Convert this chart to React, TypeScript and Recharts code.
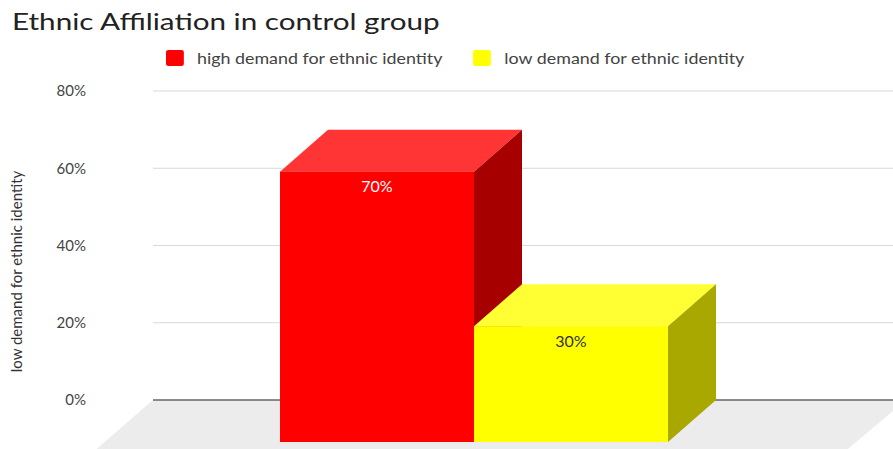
import React from "react";
import { BarChart, Bar, XAxis, YAxis, CartesianGrid, LabelList } from "recharts";

const categories = ["control group"];
const highDemand = [70];
const lowDemand = [30];
const yTicks = [0, 20, 40, 60, 80];
const seriesNames = ["high demand for ethnic identity", "low demand for ethnic identity"];

const data = categories.map((c, i) => ({ name: c, high: highDemand[i], low: lowDemand[i] }));

const FONT = "Lato, 'Open Sans', sans-serif";
// 3D depth of the boxes: front face is pushed left/down from the back plane
const DX = 48;
const DY = 42;

const palette = {
  high: { front: "#ff0000", top: "#ff3434", side: "#a60000", label: "#ffffff" },
  low: { front: "#ffff00", top: "#ffff33", side: "#a8a800", label: "#333333" },
};

function box(colors: { front: string; top: string; side: string }) {
  return (props: any) => {
    const { x, y, width: w, height: h } = props;
    if (w == null || h == null) return null;
    const fx = x - DX;
    const fy = y + DY;
    return (
      <g>
        <polygon points={`${fx},${fy} ${x},${y} ${x + w},${y} ${fx + w},${fy}`} fill={colors.top} />
        <polygon
          points={`${fx + w},${fy} ${x + w},${y} ${x + w},${y + h} ${fx + w},${fy + h}`}
          fill={colors.side}
        />
        <rect x={fx} y={fy} width={w} height={h} fill={colors.front} />
      </g>
    );
  };
}

function valueLabel(color: string) {
  return (props: any) => {
    const { x, y, width, value } = props;
    return (
      <text
        x={x - DX + width / 2}
        y={y + DY + 14}
        textAnchor="middle"
        dominantBaseline="central"
        fontFamily={FONT}
        fontSize={16}
        fill={color}
      >
        {value}%
      </text>
    );
  };
}

// grid line renderer: the zero line also draws the floor
function GridLine(props: any) {
  const { x1, x2, y1, y, height } = props;
  const isZero = y != null && height != null && Math.abs(y1 - (y + height)) < 1;
  if (isZero) {
    const right = x2 + 15;
    return (
      <g>
        <polygon
          points={`${x1},${y1} ${right},${y1} ${right - 63},${y1 + 53} ${x1 - 61},${y1 + 53}`}
          fill="#ececec"
        />
        <line x1={x1} x2={x2 + 4} y1={y1} y2={y1} stroke="#666" strokeWidth={1.5} />
      </g>
    );
  }
  return <line x1={x1} x2={x2 + 4} y1={y1} y2={y1} stroke="#d9d9d9" strokeWidth={1} />;
}

function ChartLegend() {
  const items = [
    { name: seriesNames[0], color: palette.high.front },
    { name: seriesNames[1], color: palette.low.front },
  ];
  return (
    <div
      style={{
        position: "absolute",
        left: 166,
        top: 49,
        display: "flex",
        fontFamily: FONT,
        fontSize: 15,
        color: "#444",
        transform: "scaleX(1.19)",
        transformOrigin: "left center",
        whiteSpace: "nowrap",
      }}
    >
      {items.map((it) => (
        <div key={it.name} style={{ display: "flex", alignItems: "center", marginRight: 26 }}>
          <span
            style={{
              width: 15,
              height: 16,
              background: it.color,
              borderRadius: 2,
              marginRight: 11,
              display: "inline-block",
            }}
          />
          <span>{it.name}</span>
        </div>
      ))}
    </div>
  );
}

function AxisTitle(props: any) {
  const { viewBox } = props;
  const cy = viewBox.y + viewBox.height / 2 + 26;
  return (
    <text
      x={16}
      y={cy}
      transform={`rotate(-90, 16, ${cy})`}
      textAnchor="middle"
      dominantBaseline="central"
      fontFamily={FONT}
      fontSize={15}
      fill="#333"
    >
      low demand for ethnic identity
    </text>
  );
}

export default function App() {
  return (
    <div style={{ position: "absolute", left: 0, top: 0, width: 893, height: 449, overflow: "hidden", background: "#fff" }}>
      <div
        style={{
          position: "absolute",
          left: 12,
          top: 6,
          fontFamily: FONT,
          fontSize: 24,
          color: "#222",
          whiteSpace: "nowrap",
          transform: "scaleX(1.235)",
          transformOrigin: "left center",
        }}
      >
        Ethnic Affiliation in control group
      </div>
      <BarChart
        width={893}
        height={449}
        data={data}
        margin={{ top: 91, right: 2, bottom: 49, left: 0 }}
        barGap={0}
        barSize={194}
      >
        <CartesianGrid horizontal={GridLine} vertical={false} />
        <XAxis dataKey="name" hide />
        <YAxis
          width={153}
          domain={[0, 80]}
          ticks={yTicks}
          tickFormatter={(v) => `${v}%`}
          axisLine={false}
          tickLine={false}
          tickSize={0}
          tickMargin={67}
          tick={{ fontFamily: FONT, fontSize: 15, fill: "#444" }}
          label={{ content: AxisTitle }}
        />
        <Bar dataKey="high" name={seriesNames[0]} fill={palette.high.front} shape={box(palette.high)} isAnimationActive={false}>
          <LabelList dataKey="high" content={valueLabel(palette.high.label)} />
        </Bar>
        <Bar dataKey="low" name={seriesNames[1]} fill={palette.low.front} shape={box(palette.low)} isAnimationActive={false}>
          <LabelList dataKey="low" content={valueLabel(palette.low.label)} />
        </Bar>
      </BarChart>
      <ChartLegend />
    </div>
  );
}
